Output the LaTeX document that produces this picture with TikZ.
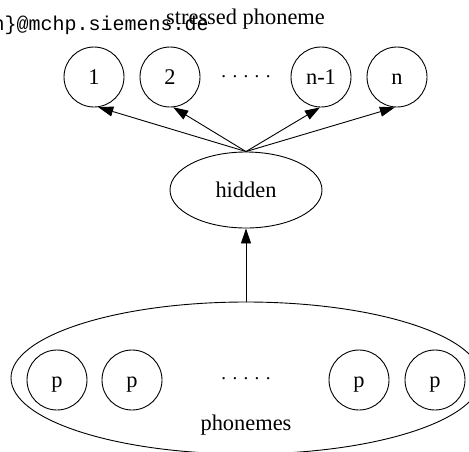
\documentclass[tikz,border=0pt]{standalone}
\usepackage{fontspec}
\setmainfont{Liberation Serif}
\setmonofont{Liberation Mono}
\usetikzlibrary{shapes.geometric,arrows.meta}
\begin{document}
\begin{tikzpicture}[x=1pt,y=-1pt,line width=0.9pt,
  lab/.style={font=\fontsize{22.4}{26}\selectfont},
  dotrow/.style={font=\fontsize{19}{22}\selectfont,inner sep=0pt},
  unit/.style={circle,draw,minimum size=60pt,inner sep=0pt,lab,text height=15pt,text depth=0pt},
  arr/.style={-{Triangle[length=15pt,width=10pt]}},
  mono/.style={font=\ttfamily\fontsize{20}{24}\selectfont}]
\useasboundingbox (0,0) rectangle (469,451);
\clip (0,0) rectangle (469,451);
% titles
\node[lab,anchor=base,inner sep=0pt] (title) at (245.5,24) {stressed phoneme};
\node[mono,anchor=base east,inner sep=0pt] (mail) at (209,30) {n\}@mchp.siemens.de};
% output units
\node[unit] (c1) at (94,77) {1};
\node[unit] (c2) at (170,77) {2};
\node[dotrow] (dotsa) at (246,77) {. . . . .};
\node[unit] (c3) at (321,77) {n-1};
\node[unit] (c4) at (397,77) {n};
% hidden
\node[ellipse,draw,minimum width=152pt,minimum height=76pt,inner sep=0pt,lab] (hid) at (246,190) {hidden};
% phonemes group
\node[ellipse,draw,minimum width=470pt,minimum height=152pt,inner sep=0pt] (big) at (246,378) {};
\node[unit] (p1) at (57,380) {p};
\node[unit] (p2) at (132,380) {p};
\node[dotrow] (dotsb) at (246,379) {. . . . .};
\node[unit] (p3) at (359,380) {p};
\node[unit] (p4) at (435,380) {p};
\node[lab,anchor=base,inner sep=0pt] (phlab) at (246,430) {phonemes};
% connectors
\draw[arr] (hid.north) -- (c1.-82);
\draw[arr] (hid.north) -- (c2.-84);
\draw[arr] (hid.north) -- (c3.-92);
\draw[arr] (hid.north) -- (c4.-94);
\draw[arr] (big.north) -- (hid.south);
\end{tikzpicture}
\end{document}
